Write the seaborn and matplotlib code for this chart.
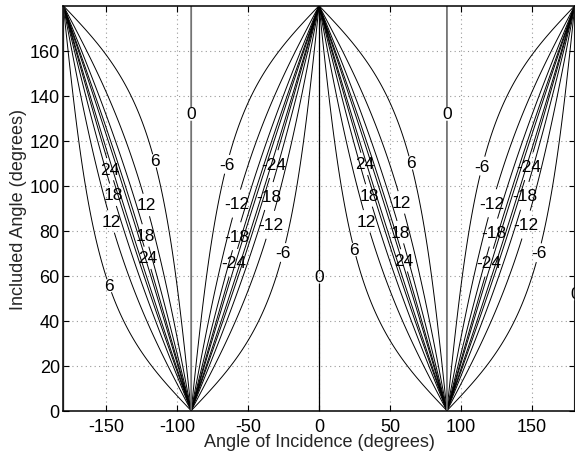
import numpy as np
import matplotlib
matplotlib.use("Agg")
import matplotlib.pyplot as plt
import seaborn as sns

# ---- chart data -------------------------------------------------------
x_ticks = [-150, -100, -50, 0, 50, 100, 150]
y_ticks = [0, 20, 40, 60, 80, 100, 120, 140, 160]
x_limits = [-180, 180]
y_limits = [0, 180]
contour_levels = [-30, -24, -18, -12, -6, 6, 12, 18, 24, 30]
zero_level = [0]
x_label = "Angle of Incidence (degrees)"
y_label = "Included Angle (degrees)"

# where the contour labels sit (data coordinates), per level
label_points = {
    6: [(-116.1, 111.0), (-148.2, 55.4), (64.3, 110.1), (24.3, 71.6)],
    12: [(-121.7, 91.4), (-145.4, 84.3), (58.0, 92.6), (34.8, 84.4)],
    18: [(-145.4, 95.9), (-121.0, 78.1), (34.8, 95.6), (56.9, 79.3)],
    24: [(-146.8, 107.4), (-121.0, 67.9), (31.3, 109.6), (59.2, 66.7)],
    -6: [(-65.3, 109.6), (-25.8, 70.4), (113.9, 108.9), (153.5, 70.4)],
    -12: [(-59.5, 92.3), (-36.3, 83.0), (119.8, 92.6), (144.2, 83.0)],
    -18: [(-36.3, 95.6), (-59.5, 77.8), (144.2, 95.6), (122.1, 79.3)],
    -24: [(-33.9, 110.0), (-61.8, 66.0), (146.5, 108.9), (118.6, 66.0)],
}
zero_points_center = [(0, 59.7)]
zero_points_outer = [(-90, 131.9), (90, 131.9), (180, 52.0)]


def ratio_db(incidence_deg, included_deg):
    a = np.radians(incidence_deg)
    h = np.radians(included_deg) / 2.0
    num = np.abs(np.cos(h - a)) + 1e-12
    den = np.abs(np.cos(h + a)) + 1e-12
    return np.clip(20.0 * np.log10(num / den), -90, 90)


# ---- style -------------------------------------------------------------
sns.set_style("ticks")
plt.rcParams["font.family"] = ["Liberation Sans", "DejaVu Sans"]
plt.rcParams["axes.linewidth"] = 1.1
plt.rcParams["axes.unicode_minus"] = False
plt.rcParams["contour.negative_linestyle"] = "solid"

fig = plt.figure(figsize=(5.75, 4.52), dpi=100)
ax = fig.add_axes([63.3 / 575, 1 - 411.7 / 452, (574.8 - 63.3) / 575, (411.7 - 6.7) / 452])

xs = np.arange(-185.125, 185.2, 0.25)
ys = np.arange(0.125, 180.0, 0.25)
X, Y = np.meshgrid(xs, ys)
Z = ratio_db(X, Y)

ax.set_xlim(*x_limits)
ax.set_ylim(*y_limits)

ax.set_xticks(x_ticks)
ax.set_yticks(y_ticks)
ax.grid(True, color="0.6", linestyle=(0, (1, 3)), linewidth=0.8)
ax.set_axisbelow(True)
ax.tick_params(direction="in", top=True, right=True, length=4, width=0.8,
               labelsize=13, colors="k")
ax.tick_params(axis="x", pad=5)
ax.tick_params(axis="y", pad=2.5)
for s in ax.spines.values():
    s.set_color("k")

lab_fs = 12.5
for lev in contour_levels:
    cs = ax.contour(X, Y, Z, levels=[lev], colors="k", linewidths=0.7,
                    linestyles="solid")
    pts = label_points.get(lev)
    if pts:
        ax.clabel(cs, manual=pts, inline=True, fmt="%d",
                  fontsize=lab_fs, inline_spacing=2)

Zc = np.ma.masked_where(np.abs(X) > 45, Z)
Zo = np.ma.masked_where(np.abs(X) < 45, Z)
cs0c = ax.contour(X, Y, Zc, levels=zero_level, colors="k", linewidths=0.9,
                  linestyles="solid")
cs0o = ax.contour(X, Y, Zo, levels=zero_level, colors="0.45", linewidths=1.3,
                  linestyles="solid")
ax.clabel(cs0c, manual=zero_points_center, inline=True, fmt="%d",
          fontsize=lab_fs, inline_spacing=2)
ax.clabel(cs0o, manual=zero_points_outer, inline=True, fmt="%d",
          fontsize=lab_fs, inline_spacing=2)

for t in ax.texts:
    t.set_rotation(0)
    t.set_color("k")
    t.set_clip_on(False)

ax.set_xlabel(x_label, fontsize=13, labelpad=-1)
ax.set_ylabel(y_label, fontsize=13, labelpad=2)

fig.savefig("out.png", dpi=100)
